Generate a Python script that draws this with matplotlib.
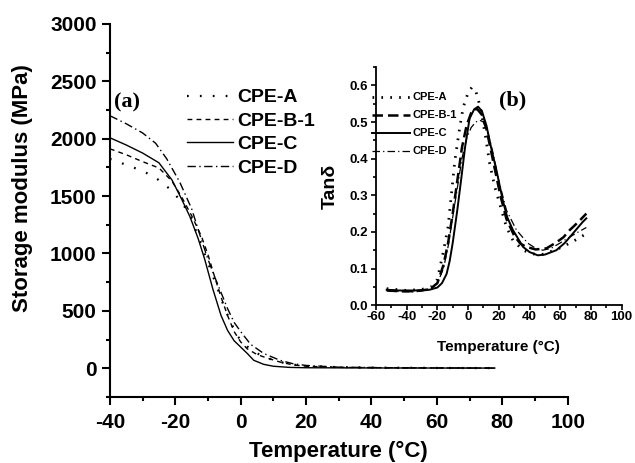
import matplotlib
matplotlib.use("Agg")
import matplotlib.pyplot as plt
from matplotlib.ticker import MultipleLocator

plt.rcParams['font.family'] = ['Liberation Sans', 'DejaVu Sans']
plt.rcParams['font.weight'] = 'bold'
plt.rcParams['axes.unicode_minus'] = False

# storage modulus (MPa) vs temperature, main panel (a)
t_a = [-40, -35, -30, -26, -22, -18, -15, -12, -10, -7, -5, -3, -1, 2, 5, 10, 15, 20, 30, 40, 60, 77.7]
e_a = [1824, 1772, 1719, 1660, 1570, 1450, 1300, 1070, 920, 690, 530, 400, 280, 190, 130, 70, 35, 20, 10, 6, 3, 2]

t_b = [-40, -35, -30, -25, -21, -18, -15, -12, -10, -8, -6, -4, -2, 0, 2, 5, 8, 12, 16, 20, 30, 50, 77.7]
e_b = [1912, 1860, 1800, 1745, 1630, 1490, 1330, 1150, 990, 800, 620, 460, 320, 230, 170, 120, 90, 55, 30, 18, 8, 4, 2]

t_c = [-40, -35, -30, -25, -21, -18, -15.5, -13, -11, -8.5, -6, -4, -2, 0, 2, 4, 7, 10, 15, 20, 40, 77.7]
e_c = [2008, 1945, 1875, 1790, 1640, 1470, 1320, 1130, 950, 690, 460, 330, 240, 185, 130, 70, 35, 18, 8, 5, 3, 2]

t_d = [-40, -35, -30, -26, -22.6, -18.6, -15, -12, -10, -8, -6, -4, -2, 0, 3, 7, 12, 16, 20, 30, 50, 77.7]
e_d = [2200, 2130, 2050, 1960, 1824, 1620, 1390, 1120, 950, 800, 660, 520, 400, 320, 210, 130, 70, 40, 25, 10, 4, 2]

# tan delta vs temperature, inset (b)
tt_a = [-53, -40, -30, -24, -20, -16.4, -13, -10.8, -8.6, -5.4, -3.2, 0, 2.5, 5, 8, 11, 14.1, 17.4, 21.8, 25, 29.2,
        35.8, 42, 48, 55, 62, 70, 77]
tan_a = [0.045, 0.04, 0.043, 0.05, 0.07, 0.14, 0.214, 0.305, 0.395, 0.486, 0.54, 0.58, 0.595, 0.585, 0.54, 0.47,
         0.386, 0.323, 0.259, 0.213, 0.177, 0.15, 0.14, 0.138, 0.148, 0.16, 0.178, 0.195]

tt_b = [-53, -45, -35, -25, -20, -16, -13, -10, -7, -4, -1, 2, 4, 6, 9, 12, 15, 18, 21, 25, 30, 34, 38, 44, 51, 57,
        62, 66.2, 72, 77]
tan_b = [0.04, 0.038, 0.038, 0.043, 0.06, 0.11, 0.17, 0.25, 0.34, 0.43, 0.49, 0.525, 0.535, 0.535, 0.52, 0.48, 0.42,
         0.36, 0.3, 0.235, 0.19, 0.168, 0.159, 0.152, 0.155, 0.17, 0.185, 0.205, 0.228, 0.25]

tt_c = [-53, -45, -35, -25, -20, -17, -14, -12, -10, -7, -4.3, -2, 1, 4, 6.5, 9, 12, 15, 18.5, 22.6, 25.5, 29.2,
        35.8, 40, 45.4, 50, 57.5, 63, 68.3, 74.6, 77]
tan_c = [0.042, 0.04, 0.04, 0.042, 0.048, 0.06, 0.085, 0.12, 0.17, 0.26, 0.35, 0.43, 0.51, 0.535, 0.542, 0.53, 0.49,
         0.43, 0.368, 0.286, 0.24, 0.205, 0.159, 0.145, 0.136, 0.138, 0.15, 0.17, 0.196, 0.227, 0.237]

tt_d = [-53, -45, -35, -25, -20, -16, -13, -10, -7, -4, -1, 2, 5, 7.6, 10, 13, 16, 20, 25, 31.5, 38.9, 43, 48.6,
        54, 59.7, 65, 71, 77]
tan_d = [0.04, 0.037, 0.036, 0.042, 0.06, 0.1, 0.16, 0.24, 0.32, 0.4, 0.455, 0.485, 0.5, 0.505, 0.5, 0.47, 0.42,
         0.34, 0.259, 0.205, 0.169, 0.158, 0.15, 0.155, 0.169, 0.183, 0.198, 0.212]

labels = ['CPE-A', 'CPE-B-1', 'CPE-C', 'CPE-D']

fig = plt.figure(figsize=(6.35, 4.63), dpi=100)

# main panel
ax = fig.add_axes([0.173, 0.1425, 0.721, 0.806])
ax.plot(t_a, e_a, color='black', lw=1.6, linestyle=(0, (0.8, 5.0)), label=labels[0])
ax.plot(t_b, e_b, color='black', lw=1.0, linestyle=(0, (3.5, 3.0)), label=labels[1])
ax.plot(t_c, e_c, color='black', lw=1.0, linestyle='-', label=labels[2])
ax.plot(t_d, e_d, color='black', lw=1.0, linestyle=(0, (6, 2.5, 1, 2.5)), label=labels[3])

ax.set_xlim(-40, 100)
ax.set_ylim(-250, 3000)
ax.xaxis.set_major_locator(MultipleLocator(20))
ax.xaxis.set_minor_locator(MultipleLocator(10))
ax.yaxis.set_major_locator(MultipleLocator(500))
ax.yaxis.set_minor_locator(MultipleLocator(250))
ax.spines['top'].set_visible(False)
ax.spines['right'].set_visible(False)
ax.spines['left'].set_linewidth(1.5)
ax.spines['bottom'].set_linewidth(1.5)
ax.tick_params(which='major', length=5.5, width=1.5, labelsize=15)
ax.tick_params(axis='x', which='major', pad=6)
ax.tick_params(axis='y', which='major', pad=4)
ax.tick_params(which='minor', length=3, width=1.5)
for lab in ax.get_xticklabels() + ax.get_yticklabels():
    lab.set_fontweight('bold')
ax.set_xlabel('Temperature (\u00b0C)', fontsize=16, fontweight='bold')
ax.set_ylabel('Storage modulus (MPa)', fontsize=16, fontweight='bold')
ax.xaxis.set_label_coords(0.5, -0.118)
ax.yaxis.set_label_coords(-0.168, 0.56)

ax.legend(loc='upper left', bbox_to_anchor=(0.282, 0.825), bbox_transform=fig.transFigure,
          frameon=False, fontsize=14, handlelength=2.37, handletextpad=0.2, labelspacing=0.3,
          borderaxespad=0)
ax.text(0.01, 0.79, '(a)', transform=ax.transAxes, family='Liberation Serif',
        fontsize=16, fontweight='bold', va='center')

# inset panel
ins = fig.add_axes([0.592, 0.341, 0.387, 0.514])
ins.plot(tt_a, tan_a, color='black', lw=2.0, linestyle=(0, (0.6, 2.6)), label=labels[0])
ins.plot(tt_b, tan_b, color='black', lw=1.8, linestyle=(0, (4.2, 2.0)), label=labels[1])
ins.plot(tt_c, tan_c, color='black', lw=1.4, linestyle='-', label=labels[2])
ins.plot(tt_d, tan_d, color='black', lw=0.9, linestyle=(0, (6, 2.5, 1, 2.5)), label=labels[3])

ins.set_xlim(-60, 100)
ins.set_ylim(0, 0.65)
ins.xaxis.set_major_locator(MultipleLocator(20))
ins.xaxis.set_minor_locator(MultipleLocator(10))
ins.yaxis.set_major_locator(MultipleLocator(0.1))
ins.yaxis.set_minor_locator(MultipleLocator(0.05))
ins.spines['top'].set_visible(False)
ins.spines['right'].set_visible(False)
ins.spines['left'].set_linewidth(1.3)
ins.spines['bottom'].set_linewidth(1.3)
ins.tick_params(which='major', length=3.5, width=1.2, labelsize=9.5, pad=2)
ins.tick_params(axis='x', which='major', pad=1)
ins.tick_params(which='minor', length=2, width=1.2)
ins.set_yticks([0.0, 0.1, 0.2, 0.3, 0.4, 0.5, 0.6])
ins.set_yticklabels(['0.0', '0.1', '0.2', '0.3', '0.4', '0.5', '0.6'])
for lab in ins.get_xticklabels() + ins.get_yticklabels():
    lab.set_fontweight('bold')
ins.set_xlabel('Temperature (\u00b0C)', fontsize=11, fontweight='bold')
ins.set_ylabel('Tan\u03b4', fontsize=14, fontweight='bold')
ins.xaxis.set_label_coords(0.5, -0.145)
ins.yaxis.set_label_coords(-0.15, 0.5)

ins.legend(loc='upper left', bbox_to_anchor=(0.579, 0.81), bbox_transform=fig.transFigure,
           frameon=False, fontsize=8, handlelength=3.4, handletextpad=0.25, labelspacing=0.72,
           borderaxespad=0)
ins.text(0.5, 0.86, '(b)', transform=ins.transAxes, family='Liberation Serif',
         fontsize=16, fontweight='bold', va='center')

fig.savefig('out.png', dpi=100)
